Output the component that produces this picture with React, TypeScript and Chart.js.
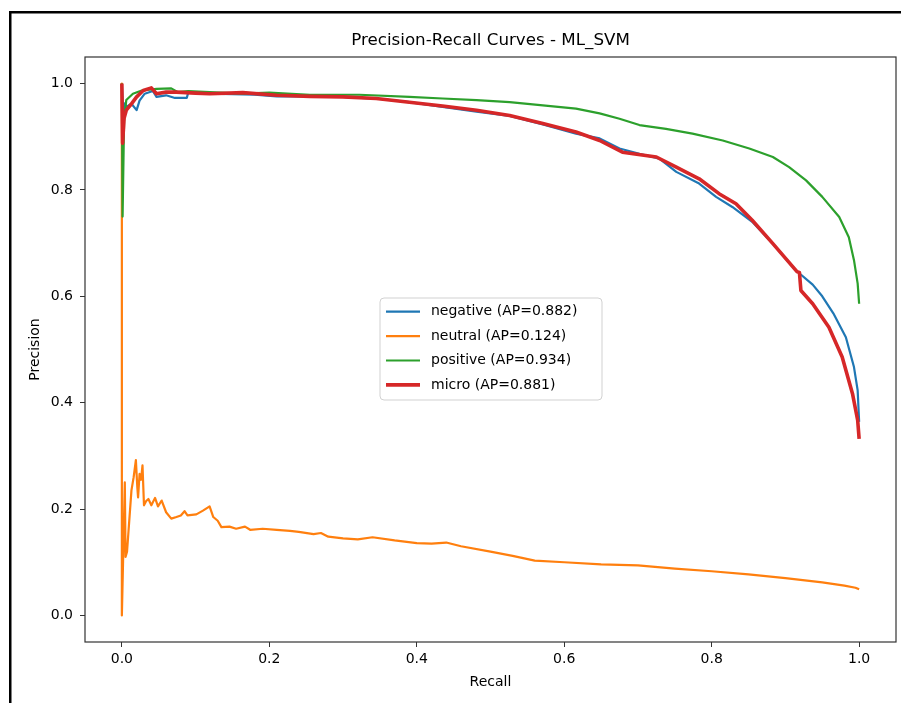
import React, { useEffect, useRef } from "react";
import { Chart, registerables } from "chart.js";

Chart.register(...registerables);

const TITLE = "Precision-Recall Curves - ML_SVM";
const X_LABEL = "Recall";
const Y_LABEL = "Precision";
const X_TICKS = [0, 0.2, 0.4, 0.6, 0.8, 1.0];
const Y_TICKS = [0, 0.2, 0.4, 0.6, 0.8, 1.0];
const SERIES_NAMES = ["negative", "neutral", "positive", "micro"];
const AP_VALUES = [0.882, 0.124, 0.934, 0.881];
const COLORS = ["#1f77b4", "#ff7f0e", "#2ca02c", "#d62728"];

const negRecall = [0, 0.002, 0.004, 0.006, 0.013, 0.02, 0.024, 0.031, 0.042, 0.047, 0.06, 0.072, 0.088, 0.09, 0.119, 0.15, 0.18, 0.21, 0.25, 0.3, 0.35, 0.39, 0.435, 0.481, 0.526, 0.571, 0.616, 0.648, 0.675, 0.702, 0.729, 0.752, 0.783, 0.806, 0.828, 0.855, 0.883, 0.914, 0.937, 0.95, 0.965, 0.982, 0.993, 0.998, 1.0];
const negPrecision = [1.0, 0.94, 0.963, 0.956, 0.962, 0.95, 0.968, 0.981, 0.986, 0.975, 0.978, 0.973, 0.973, 0.983, 0.981, 0.98, 0.979, 0.976, 0.976, 0.975, 0.971, 0.965, 0.956, 0.947, 0.939, 0.923, 0.906, 0.897, 0.878, 0.868, 0.859, 0.834, 0.812, 0.787, 0.768, 0.74, 0.699, 0.649, 0.622, 0.6, 0.568, 0.523, 0.467, 0.423, 0.364];

const neuRecall = [0, 0, 0.004, 0.005, 0.007, 0.013, 0.016, 0.019, 0.021, 0.022, 0.024, 0.026, 0.028, 0.03, 0.033, 0.036, 0.04, 0.045, 0.049, 0.054, 0.06, 0.067, 0.074, 0.08, 0.085, 0.089, 0.101, 0.11, 0.119, 0.124, 0.13, 0.135, 0.146, 0.155, 0.167, 0.174, 0.191, 0.21, 0.228, 0.24, 0.26, 0.27, 0.28, 0.3, 0.32, 0.34, 0.37, 0.4, 0.42, 0.44, 0.46, 0.5, 0.53, 0.56, 0.6, 0.65, 0.7, 0.75, 0.8, 0.85, 0.9, 0.95, 0.98, 0.995, 1.0];
const neuPrecision = [1.0, 0.0, 0.25, 0.11, 0.12, 0.235, 0.26, 0.292, 0.24, 0.222, 0.266, 0.255, 0.282, 0.207, 0.215, 0.219, 0.207, 0.221, 0.205, 0.216, 0.194, 0.182, 0.185, 0.188, 0.196, 0.188, 0.19, 0.197, 0.205, 0.185, 0.178, 0.166, 0.167, 0.163, 0.167, 0.161, 0.163, 0.161, 0.159, 0.157, 0.153, 0.155, 0.148, 0.145, 0.143, 0.147, 0.141, 0.136, 0.135, 0.137, 0.13, 0.12, 0.112, 0.103, 0.1, 0.096, 0.094, 0.088, 0.083, 0.077, 0.07, 0.062, 0.056, 0.052, 0.049];

const posRecall = [0, 0.001, 0.003, 0.006, 0.015, 0.027, 0.047, 0.067, 0.076, 0.09, 0.119, 0.164, 0.2, 0.255, 0.322, 0.39, 0.435, 0.481, 0.526, 0.571, 0.616, 0.648, 0.675, 0.702, 0.738, 0.774, 0.815, 0.851, 0.883, 0.905, 0.928, 0.95, 0.973, 0.986, 0.993, 0.998, 1.0];
const posPrecision = [1.0, 0.75, 0.93, 0.969, 0.981, 0.987, 0.99, 0.991, 0.984, 0.986, 0.984, 0.981, 0.983, 0.979, 0.979, 0.975, 0.972, 0.969, 0.965, 0.959, 0.953, 0.944, 0.934, 0.922, 0.915, 0.906, 0.893, 0.878, 0.862, 0.843, 0.818, 0.787, 0.749, 0.711, 0.668, 0.624, 0.586];

const microRecall = [0, 0.001, 0.003, 0.006, 0.013, 0.02, 0.029, 0.04, 0.047, 0.06, 0.074, 0.1, 0.119, 0.164, 0.21, 0.255, 0.3, 0.345, 0.39, 0.435, 0.481, 0.526, 0.571, 0.616, 0.648, 0.679, 0.725, 0.752, 0.783, 0.81, 0.833, 0.855, 0.883, 0.916, 0.919, 0.921, 0.937, 0.959, 0.977, 0.991, 0.998, 1.0];
const microPrecision = [1.0, 0.888, 0.935, 0.95, 0.962, 0.975, 0.987, 0.992, 0.981, 0.984, 0.984, 0.982, 0.981, 0.983, 0.978, 0.976, 0.975, 0.972, 0.965, 0.958, 0.95, 0.94, 0.925, 0.909, 0.893, 0.871, 0.862, 0.843, 0.821, 0.793, 0.774, 0.743, 0.699, 0.646, 0.645, 0.611, 0.586, 0.542, 0.486, 0.417, 0.367, 0.332];

const RECALLS = [negRecall, neuRecall, posRecall, microRecall];
const PRECISIONS = [negPrecision, neuPrecision, posPrecision, microPrecision];
const LINE_WIDTHS = [2.2, 2.2, 2.2, 3.6];

const FONT = "'DejaVu Sans', sans-serif";

const framePlugin = {
  id: "frame",
  beforeDraw(chart: any) {
    const { ctx, width, height } = chart;
    ctx.save();
    ctx.fillStyle = "#ffffff";
    ctx.fillRect(0, 0, width, height);
    ctx.fillStyle = "#000000";
    ctx.fillRect(9, 11, width - 9, 2.5);
    ctx.fillRect(9, 11, 2.5, height - 11);
    ctx.restore();
  },
  afterDraw(chart: any) {
    const { ctx, chartArea } = chart;
    const { left, right, top, bottom } = chartArea;
    ctx.save();
    ctx.strokeStyle = "#333333";
    ctx.lineWidth = 1.2;
    ctx.strokeRect(left, top, right - left, bottom - top);
    ctx.fillStyle = "#000000";
    ctx.font = `16.7px ${FONT}`;
    ctx.textAlign = "center";
    ctx.textBaseline = "middle";
    ctx.fillText(TITLE, (left + right) / 2, 41);
    const bx = 380, by = 298, bw = 222, bh = 102, r = 4;
    ctx.beginPath();
    ctx.moveTo(bx + r, by);
    ctx.arcTo(bx + bw, by, bx + bw, by + bh, r);
    ctx.arcTo(bx + bw, by + bh, bx, by + bh, r);
    ctx.arcTo(bx, by + bh, bx, by, r);
    ctx.arcTo(bx, by, bx + bw, by, r);
    ctx.closePath();
    ctx.fillStyle = "rgba(255,255,255,0.8)";
    ctx.fill();
    ctx.strokeStyle = "rgba(204,204,204,0.9)";
    ctx.lineWidth = 1;
    ctx.stroke();
    ctx.font = `14px ${FONT}`;
    ctx.textAlign = "left";
    ctx.textBaseline = "middle";
    SERIES_NAMES.forEach((name, i) => {
      const y = 311.7 + i * 24.4;
      ctx.beginPath();
      ctx.strokeStyle = COLORS[i];
      ctx.lineWidth = LINE_WIDTHS[i];
      ctx.moveTo(386, y);
      ctx.lineTo(420, y);
      ctx.stroke();
      ctx.fillStyle = "#000000";
      ctx.fillText(`${name} (AP=${AP_VALUES[i].toFixed(3)})`, 431, y);
    });
    ctx.restore();
  },
};

export default function App() {
  const ref = useRef<HTMLCanvasElement | null>(null);
  useEffect(() => {
    if (!ref.current) return;
    const datasets = SERIES_NAMES.map((name, i) => ({
      label: `${name} (AP=${AP_VALUES[i].toFixed(3)})`,
      data: RECALLS[i].map((r, j) => ({ x: r, y: PRECISIONS[i][j] })),
      borderColor: COLORS[i],
      backgroundColor: COLORS[i],
      borderWidth: LINE_WIDTHS[i],
      showLine: true,
      pointRadius: 0,
      pointHoverRadius: 0,
      tension: 0,
      borderJoinStyle: "round" as const,
      order: SERIES_NAMES.length - 1 - i,
    }));
    const chart = new Chart(ref.current, {
      type: "scatter",
      data: { datasets },
      options: {
        animation: false,
        responsive: false,
        devicePixelRatio: 1,
        layout: { padding: { left: 0, top: 57, right: 5, bottom: 0 } },
        plugins: {
          legend: { display: false },
          title: { display: false },
          tooltip: { enabled: false },
        },
        scales: {
          x: {
            type: "linear",
            min: -0.05,
            max: 1.05,
            afterBuildTicks: (scale: any) => {
              scale.ticks = X_TICKS.map((v) => ({ value: v }));
            },
            afterFit: (scale: any) => {
              scale.height = 61;
            },
            border: { display: false },
            grid: {
              drawOnChartArea: false,
              drawTicks: true,
              tickLength: 5,
              tickColor: "#333333",
              tickWidth: 1,
            },
            ticks: {
              color: "#000000",
              font: { family: FONT, size: 14 },
              padding: 4,
              maxRotation: 0,
              callback: (v: any) => Number(v).toFixed(1),
            },
            title: {
              display: true,
              text: X_LABEL,
              color: "#000000",
              font: { family: FONT, size: 14 },
              padding: { top: 0, bottom: 12.6 },
            },
          },
          y: {
            type: "linear",
            min: -0.05,
            max: 1.05,
            afterBuildTicks: (scale: any) => {
              scale.ticks = Y_TICKS.map((v) => ({ value: v }));
            },
            afterFit: (scale: any) => {
              scale.width = 85;
            },
            border: { display: false },
            grid: {
              drawOnChartArea: false,
              drawTicks: true,
              tickLength: 5,
              tickColor: "#333333",
              tickWidth: 1,
            },
            ticks: {
              color: "#000000",
              font: { family: FONT, size: 14 },
              padding: 7,
              callback: (v: any) => Number(v).toFixed(1),
            },
            title: {
              display: true,
              text: Y_LABEL,
              color: "#000000",
              font: { family: FONT, size: 14 },
              padding: { top: 26.6, bottom: 0 },
            },
          },
        },
      },
      plugins: [framePlugin],
    });
    return () => chart.destroy();
  }, []);
  return (
    <div style={{ position: "fixed", left: 0, top: 0, width: 901, height: 703 }}>
      <canvas ref={ref} width={901} height={703} style={{ display: "block", width: 901, height: 703 }} />
    </div>
  );
}
